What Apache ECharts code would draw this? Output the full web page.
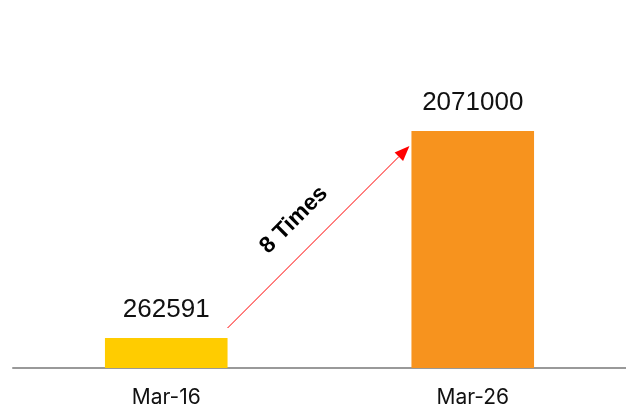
<!DOCTYPE html>
<html>
<head>
<meta charset="utf-8">
<script src="https://cdn.jsdelivr.net/npm/echarts@6/dist/echarts.min.js"></script>
<style>
  html, body { margin: 0; padding: 0; background: #fff; }
  #main { width: 626px; height: 413px; }
</style>
</head>
<body>
<div id="main"></div>
<script>
const categories = ['Mar-16', 'Mar-26']
const values = [262591, 2071000]
const barColors = ['#FFCC00', '#F7931E']
// arrow runs from near the first bar's edge up to the second bar
const arrowFrom = 349650
const arrowTo = 1940000
const arrowText = '8 Times'

const chart = echarts.init(document.getElementById('main'))

const option = {
  animation: false,
  grid: { left: 13, right: 0, top: 82, bottom: 45 },
  xAxis: {
    type: 'category',
    data: categories,
    axisTick: { show: false },
    axisLine: { lineStyle: { color: '#999999', width: 2 } },
    axisLabel: {
      color: '#111',
      fontSize: 21,
      fontFamily: 'Inter',
      margin: 19
    }
  },
  yAxis: {
    type: 'value',
    min: 0,
    max: 2500000,
    show: false,
    splitLine: { show: false }
  },
  series: [
    {
      type: 'bar',
      barWidth: '40%',
      data: values.map((v, i) => ({ value: v, itemStyle: { color: barColors[i] } })),
      label: {
        show: true,
        position: 'top',
        distance: 15,
        color: '#111',
        fontSize: 26,
        fontFamily: 'Liberation Sans'
      }
    }
  ]
}
chart.setOption(option)

// 箭头和文字注释
function drawArrow() {
  const p0 = chart.convertToPixel({ seriesIndex: 0 }, [0, arrowFrom])
  const p1 = chart.convertToPixel({ seriesIndex: 0 }, [1, arrowTo])
  const bandW = chart.convertToPixel({ xAxisIndex: 0 }, 1) - chart.convertToPixel({ xAxisIndex: 0 }, 0)
  const x0 = p0[0] + bandW * 0.2
  const y0 = p0[1]
  const x1 = p1[0] - bandW * 0.2 - 2
  const y1 = p1[1]
  const ang = Math.atan2(y1 - y0, x1 - x0)
  const len = 15, half = 6
  const bx = x1 - Math.cos(ang) * len
  const by = y1 - Math.sin(ang) * len
  const nx = -Math.sin(ang) * half
  const ny = Math.cos(ang) * half
  chart.setOption({
    graphic: [
      {
        type: 'line',
        shape: { x1: x0, y1: y0, x2: bx, y2: by },
        style: { stroke: '#FF0000', lineWidth: 1 }
      },
      {
        type: 'polygon',
        shape: { points: [[x1, y1], [bx + nx, by + ny], [bx - nx, by - ny]] },
        style: { fill: '#FF0000' }
      },
      {
        type: 'text',
        x: 294,
        y: 220,
        rotation: Math.PI / 4,
        style: {
          text: arrowText,
          fill: '#000',
          font: 'bold 23px "Liberation Sans"',
          align: 'center',
          verticalAlign: 'middle'
        }
      }
    ]
  })
}
drawArrow()
</script>
</body>
</html>
